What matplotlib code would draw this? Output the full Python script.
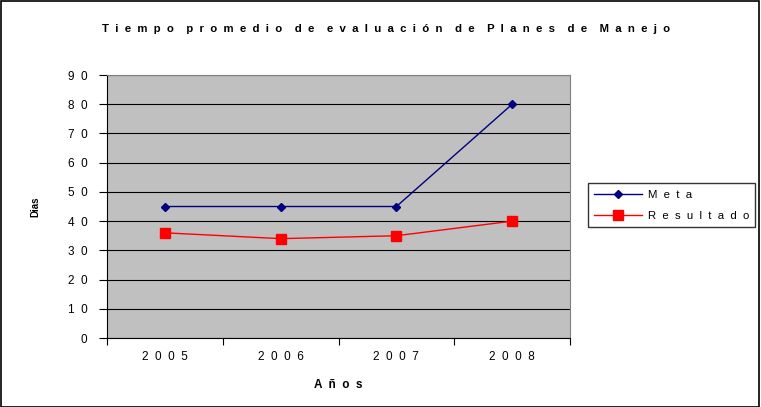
import matplotlib
matplotlib.use('Agg')
import matplotlib.pyplot as plt
from matplotlib.patches import Rectangle

years = ['2005', '2006', '2007', '2008']
meta = [45, 45, 45, 80]
resultado = [36, 34, 35, 40]
yticks = [0, 10, 20, 30, 40, 50, 60, 70, 80, 90]


def spaced(s, gap='  '):
    # imitate the wide letter spacing of the original
    return (gap + '  ').join(gap.join(w) for w in s.split(' '))


plt.rcParams['font.family'] = ['Liberation Sans', 'DejaVu Sans']

fig = plt.figure(figsize=(7.61, 4.07), dpi=100)
fig.patches.append(Rectangle((0.001, 0.001), 0.997, 0.997, transform=fig.transFigure,
                             fill=False, edgecolor='black', lw=1.2))
ax = fig.add_axes([0.1406, 0.1695, 0.6085, 0.6462])
ax.set_facecolor('#c0c0c0')

x = range(len(years))
ax.plot(x, meta, color='#000080', lw=1, marker='D', markersize=4.5, label=spaced('Meta'))
ax.plot(x, resultado, color='#ff0000', lw=1, marker='s', markersize=7, label=spaced('Resultado'))

ax.set_xlim(-0.5, 3.5)
ax.set_ylim(0, 90)
ax.set_yticks(yticks)
ax.set_yticklabels([spaced(str(v)) for v in yticks], fontsize=8.5)
ax.yaxis.grid(True, color='black', lw=0.8)
ax.set_axisbelow(True)

ax.set_xticks([-0.5, 0.5, 1.5, 2.5, 3.5])
ax.set_xticklabels([])
ax.set_xticks(list(x), minor=True)
ax.set_xticklabels([spaced(y) for y in years], minor=True, fontsize=8.5)
ax.tick_params(axis='x', which='minor', length=0, pad=9)
ax.tick_params(axis='x', which='major', length=5, direction='out')
ax.tick_params(axis='y', length=6, direction='out', pad=8)

for s in ['top', 'right']:
    ax.spines[s].set_color('#808080')
ax.spines['left'].set_color('black')
ax.spines['bottom'].set_color('black')

ax.set_xlabel(spaced('Años'), fontsize=8.5, fontweight='bold', labelpad=12)
ax.set_ylabel('Dias', fontsize=7, fontweight='bold', labelpad=20)
fig.text(0.507, 0.928, spaced('Tiempo promedio de evaluación de Planes de Manejo'),
         ha='center', va='center', fontsize=8.2, fontweight='bold')

leg = fig.legend(loc='center left', bbox_to_anchor=(0.7727, 0.496), fontsize=8.2,
                 frameon=True, fancybox=False, handlelength=4.2, handletextpad=0.5,
                 borderpad=0.55, borderaxespad=0, labelspacing=0.95)
leg.get_frame().set_edgecolor('black')
leg.get_frame().set_linewidth(1)

plt.savefig('out.png', dpi=100)
